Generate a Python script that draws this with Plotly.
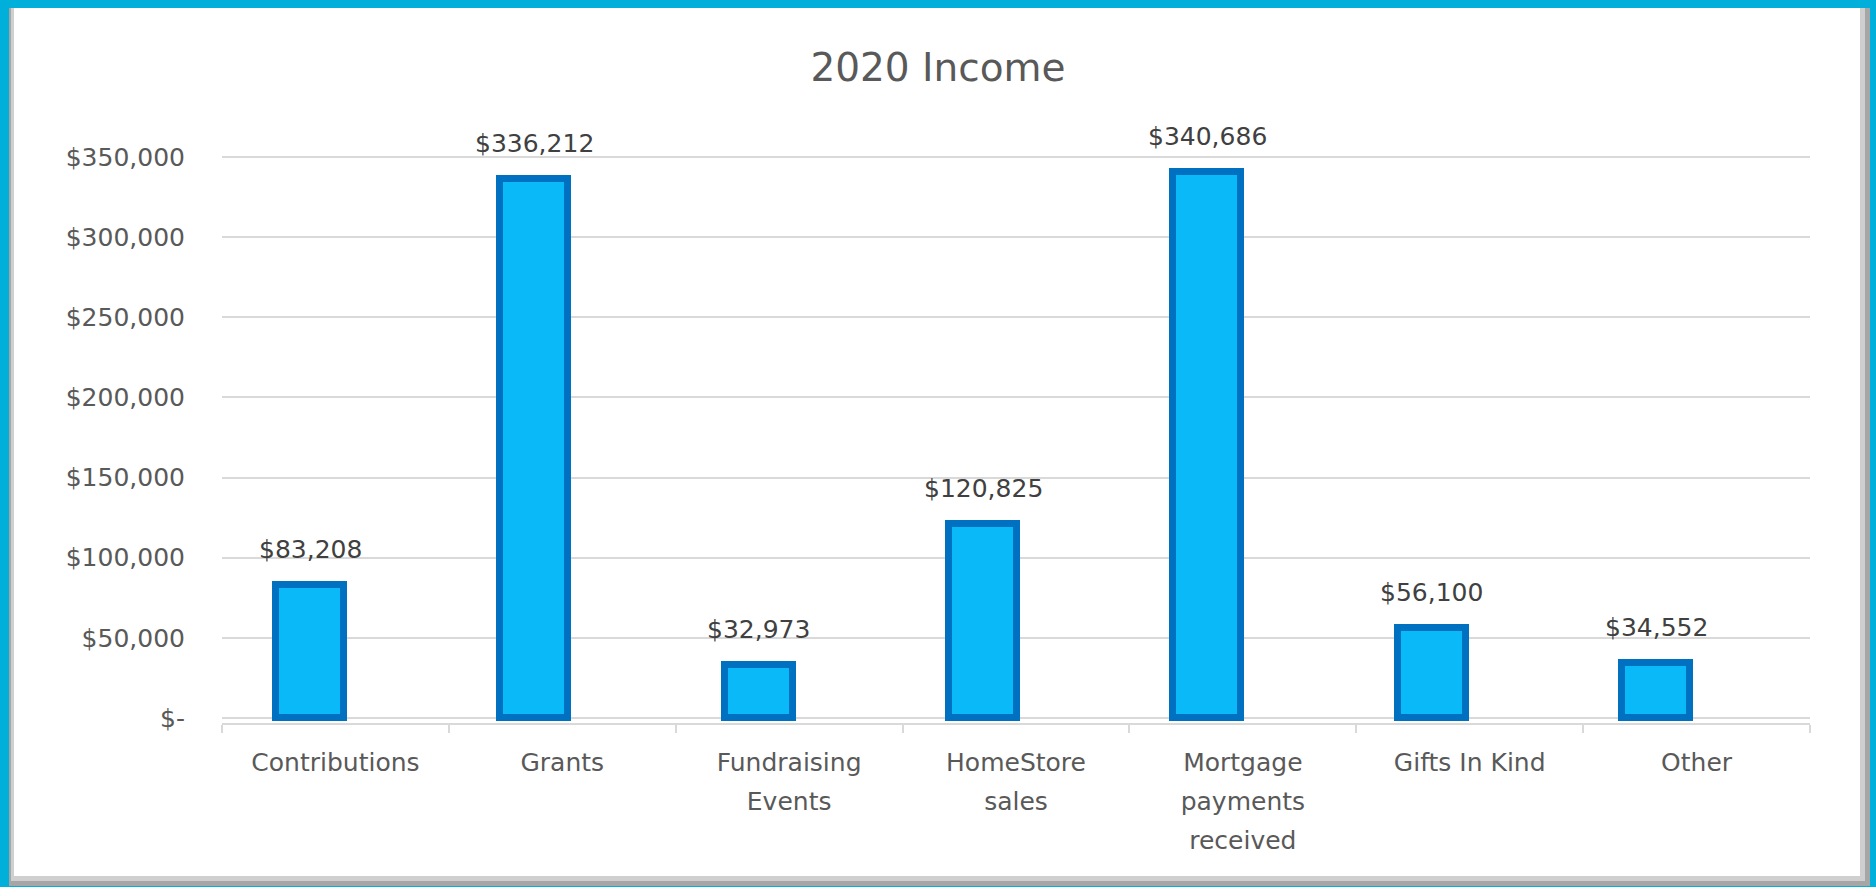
import plotly.graph_objects as go

categories = ["Contributions", "Grants", "Fundraising Events", "HomeStore sales",
              "Mortgage payments received", "Gifts In Kind", "Other"]
tick_labels = ["Contributions", "Grants", "Fundraising<br>Events", "HomeStore<br>sales",
               "Mortgage<br>payments<br>received", "Gifts In Kind", "Other"]
income = [83208, 336212, 32973, 120825, 340686, 56100, 34552]
y_ticks = [0, 50000, 100000, 150000, 200000, 250000, 300000, 350000]
y_tick_text = ["$-" if v == 0 else "${:,}".format(v) for v in y_ticks]
title_text = "2020 Income"

W, H = 1876, 887
L, R, T, B = 222, 66, 154, 164
PW, PH = W - L - R, H - T - B

def px(xp):
    return (xp - L) / PW

def py(yp):
    return (H - B - yp) / PH

FONT = "DejaVu Sans"
AXIS_GRAY = "#595959"
LABEL_GRAY = "#404040"
GRID = "#D9D9D9"

# wrap each line in a 25px span; the 30px tick font only sets the line spacing
x_tick_text = ["<br>".join('<span style="font-size:25px">%s</span>' % part
                           for part in lab.split("<br>")) for lab in tick_labels]

fig = go.Figure()
# empty trace so that the category-label axis (x) is built
fig.add_trace(go.Scatter(x=[], y=[], xaxis="x", yaxis="y", showlegend=False, hoverinfo="skip"))
fig.add_trace(go.Bar(
    x=categories, y=income, xaxis="x2", yaxis="y",
    width=0.303,
    marker=dict(color="#0ABAF8", line=dict(color="#0070C0", width=7)),
    hoverinfo="x+y",
))

annotations = []
for c, v in zip(categories, income):
    annotations.append(dict(
        x=c, y=v, xref="x2", yref="y", text="${:,}".format(v),
        showarrow=False, yanchor="bottom", yshift=19,
        font=dict(family=FONT, size=25, color=LABEL_GRAY),
    ))

shapes = [
    dict(type="rect", xref="paper", yref="paper", layer="below",
         x0=px(9), x1=px(1870), y0=py(8), y1=py(886),
         fillcolor="#A6A6A6", line=dict(width=0)),
    dict(type="rect", xref="paper", yref="paper", layer="below",
         x0=px(11), x1=px(1865), y0=py(8), y1=py(881),
         fillcolor="#CFCFCF", line=dict(width=0)),
    dict(type="rect", xref="paper", yref="paper", layer="below",
         x0=px(14), x1=px(1860), y0=py(8), y1=py(876),
         fillcolor="#FFFFFF", line=dict(width=0)),
]

fig.update_layout(
    width=W, height=H,
    margin=dict(l=L, r=R, t=T, b=B, autoexpand=False),
    paper_bgcolor="#00B0DA",
    plot_bgcolor="rgba(0,0,0,0)",
    showlegend=False,
    bargap=0,
    title=dict(text=title_text, xref="container", yref="container",
               x=0.5, xanchor="center", y=1 - 67 / H, yanchor="middle",
               font=dict(family=FONT, size=39, color=AXIS_GRAY)),
    xaxis=dict(
        range=[-0.5, len(categories) - 0.5], tickmode="array",
        tickvals=list(range(len(categories))), ticktext=x_tick_text,
        showgrid=False, zeroline=False, showline=True, linecolor=GRID, linewidth=2,
        ticks="", ticklabelstandoff=10,
        minor=dict(tickmode="linear", tick0=-0.5, dtick=1, ticks="outside",
                   ticklen=8, tickcolor=GRID, tickwidth=2, showgrid=False),
        tickfont=dict(family=FONT, size=30, color=AXIS_GRAY),
        fixedrange=True,
    ),
    xaxis2=dict(
        overlaying="x", type="category",
        range=[-(310 - L) / 224.33, 6 + (L + PW - 1656) / 224.33],
        visible=False, fixedrange=True,
    ),
    yaxis=dict(
        range=[-3119, 351872], tickmode="array", tickvals=y_ticks, ticktext=y_tick_text,
        showgrid=True, gridcolor=GRID, gridwidth=2, zeroline=False, showline=False,
        ticks="", ticklabelstandoff=36,
        tickfont=dict(family=FONT, size=25, color=AXIS_GRAY),
        fixedrange=True,
    ),
    annotations=annotations,
    shapes=shapes,
)

fig.write_html("out.html", config={"displayModeBar": False},
               post_script="document.body.style.margin='0';document.body.style.overflow='hidden';")
